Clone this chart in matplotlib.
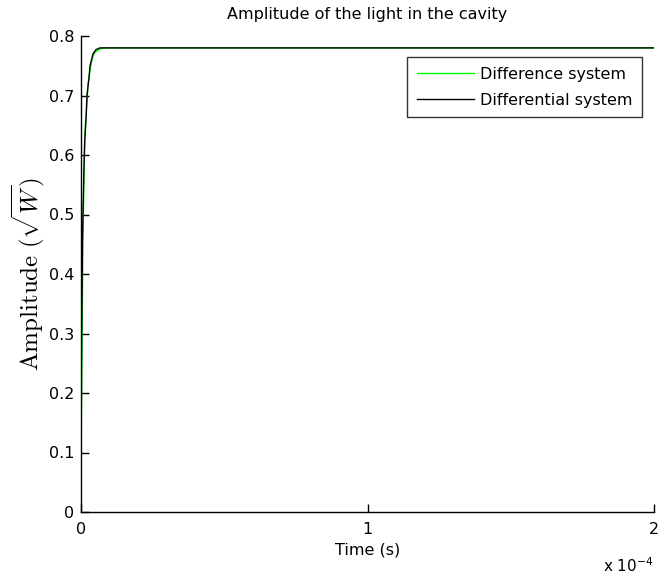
import matplotlib
matplotlib.use("Agg")
import matplotlib.pyplot as plt

# Difference system (discrete steps) and differential system (continuous) samples
t_difference = [0.0, 0.1e-6, 0.35e-6, 0.7e-6, 1.05e-6, 1.4e-6, 2.1e-6, 2.45e-6,
                3.1e-6, 3.8e-6, 4.5e-6, 5.5e-6, 7.0e-6, 9.0e-6, 2.0e-4]
amp_difference = [0.0, 0.14, 0.27, 0.46, 0.57, 0.64, 0.69, 0.72,
                  0.74, 0.76, 0.77, 0.775, 0.779, 0.78, 0.78]

t_differential = [0.0, 0.17e-6, 0.52e-6, 1.0e-6, 1.3e-6, 1.75e-6, 2.1e-6, 2.8e-6,
                  3.15e-6, 4.2e-6, 5.2e-6, 6.6e-6, 2.0e-4]
amp_differential = [0.0, 0.27, 0.46, 0.57, 0.625, 0.66, 0.70, 0.73,
                    0.75, 0.77, 0.777, 0.78, 0.78]

y_ticks = [0, 0.1, 0.2, 0.3, 0.4, 0.5, 0.6, 0.7, 0.8]
y_tick_labels = ["0", "0.1", "0.2", "0.3", "0.4", "0.5", "0.6", "0.7", "0.8"]
x_ticks = [0, 1e-4, 2e-4]
x_tick_labels = ["0", "1", "2"]

plt.rcParams['font.family'] = ['DejaVu Sans']
plt.rcParams['mathtext.fontset'] = 'cm'

FS = 11.5

fig = plt.figure(figsize=(6.58, 5.78), dpi=100)
ax = fig.add_axes([81 / 658, 66 / 578, 573 / 658, 476 / 578])

ax.plot(t_difference, amp_difference, color=(0, 1, 0), lw=1.0, label="Difference system")
ax.plot(t_differential, amp_differential, color="black", lw=1.0, label="Differential system")

ax.set_xlim(0, 2e-4)
ax.set_ylim(0, 0.8)
ax.set_xticks(x_ticks)
ax.set_xticklabels(x_tick_labels)
ax.set_yticks(y_ticks)
ax.set_yticklabels(y_tick_labels)

for side in ("top", "right"):
    ax.spines[side].set_visible(False)
for side in ("left", "bottom"):
    ax.spines[side].set_color("black")
    ax.spines[side].set_linewidth(1.0)

ax.tick_params(direction="in", length=6, width=1, labelsize=FS, colors="black")
ax.tick_params(axis="x", pad=7)
ax.tick_params(axis="y", pad=5)

ax.set_title("Amplitude of the light in the cavity", fontsize=FS, pad=12)
ax.set_xlabel("Time (s)", fontsize=FS, labelpad=4)
ax.set_ylabel(r"$\mathrm{Amplitude}\ (\sqrt{W})$", fontsize=18, labelpad=1)

ax.text(1.0, -0.095, r"x 10$^{\mathregular{-4}}$", transform=ax.transAxes,
        ha="right", va="top", fontsize=FS - 0.5)

leg = ax.legend(loc="upper right", bbox_to_anchor=(0.979, 0.956), fontsize=FS,
                frameon=True, fancybox=False, borderaxespad=0, handlelength=3.6,
                handletextpad=0.35, borderpad=0.6, labelspacing=0.7)
leg.get_frame().set_edgecolor("black")
leg.get_frame().set_linewidth(1.0)

fig.savefig("out.png", dpi=100)
